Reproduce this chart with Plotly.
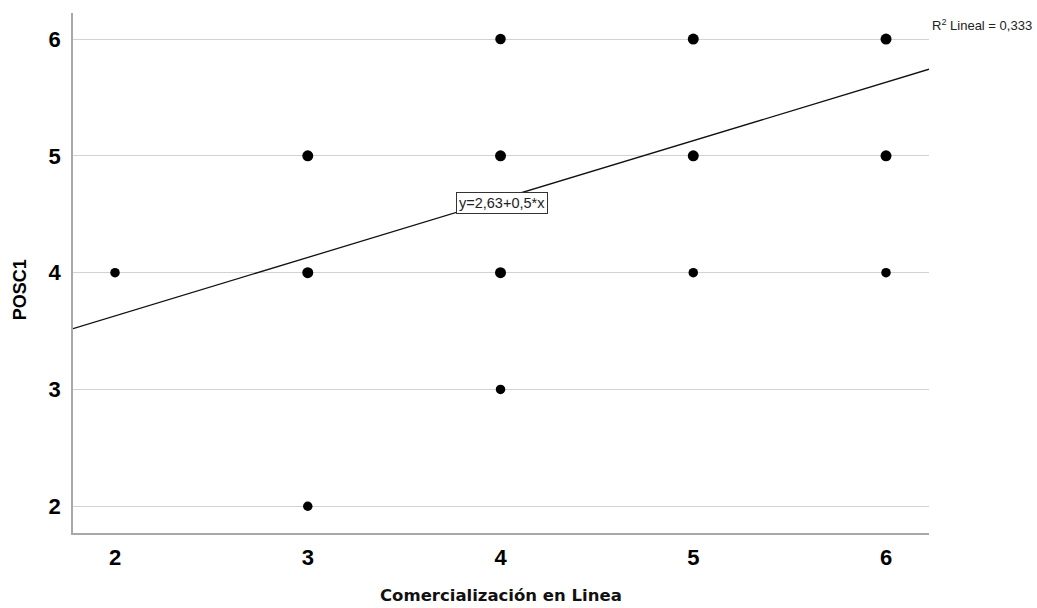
import plotly.graph_objects as go

# Data
x_vals = [2, 3, 3, 3, 4, 4, 4, 4, 5, 5, 5, 6, 6, 6]
y_vals = [4, 5, 4, 2, 6, 5, 4, 3, 6, 5, 4, 6, 5, 4]
marker_sizes = [9.5, 11, 11, 9.5, 10.5, 11, 11, 9.5, 11, 11, 9.5, 11, 11, 9.5]
intercept = 2.63
slope = 0.5
r2_text = "R<sup>2</sup> Lineal = 0,333"
eq_text = "y=2,63+0,5*x"
x_title = "Comercialización en Linea"
y_title = "POSC1"
tick_vals = [2, 3, 4, 5, 6]
x_range = [1.782, 6.223]
y_range = [1.771, 6.223]

fit_x = [x_range[0], x_range[1]]
fit_y = [intercept + slope * v for v in fit_x]

FONT = "Liberation Sans, Arial, sans-serif"

fig = go.Figure()
fig.add_trace(go.Scatter(
    x=fit_x, y=fit_y, mode="lines",
    line=dict(color="#111111", width=1.3),
    showlegend=False, hoverinfo="skip",
))
fig.add_trace(go.Scatter(
    x=x_vals, y=y_vals, mode="markers",
    marker=dict(color="#000000", size=marker_sizes, opacity=1, line=dict(width=0)),
    showlegend=False,
))

fig.add_annotation(
    x=4.006, y=4.6, xref="x", yref="y", text=eq_text, showarrow=False,
    font=dict(family=FONT, size=14.5, color="#222"),
    bgcolor="white", bordercolor="#333", borderwidth=1, borderpad=2,
)
fig.add_annotation(
    x=1.0, y=6.223, xref="paper", yref="y", text=r2_text, showarrow=False,
    xanchor="left", yanchor="middle", xshift=1, yshift=-12,
    font=dict(family=FONT, size=13, color="#222"),
)
fig.add_annotation(
    x=-0.0619, y=0.467, xref="paper", yref="paper", text=y_title, showarrow=False,
    textangle=-90, xanchor="center", yanchor="middle",
    font=dict(family=FONT, size=18, weight="bold", color="black"),
)
fig.add_annotation(
    x=0.5, y=-0.121, xref="paper", yref="paper", text=x_title, showarrow=False,
    xanchor="center", yanchor="middle",
    font=dict(family="DejaVu Sans, sans-serif", size=16.5, weight="bold", color="#111"),
)

fig.update_layout(
    width=1037, height=608,
    margin=dict(l=73, r=108, t=13, b=75),
    paper_bgcolor="white", plot_bgcolor="white",
    font=dict(family=FONT, color="black"),
    xaxis=dict(
        range=x_range, tickvals=tick_vals, showgrid=False, zeroline=False,
        showline=True, linecolor="#a8a8a8", linewidth=1.5, ticks="",
        tickfont=dict(family=FONT, size=22, color="black", weight="bold"),
        ticklabelstandoff=4,
    ),
    yaxis=dict(
        range=y_range, tickvals=tick_vals, showgrid=True, gridcolor="#d2d2d2", gridwidth=1,
        zeroline=False, showline=True, linecolor="#a8a8a8", linewidth=1.5, ticks="",
        tickfont=dict(family=FONT, size=22, color="black", weight="bold"),
        ticklabelstandoff=6,
    ),
)

fig.write_html("out.html")
